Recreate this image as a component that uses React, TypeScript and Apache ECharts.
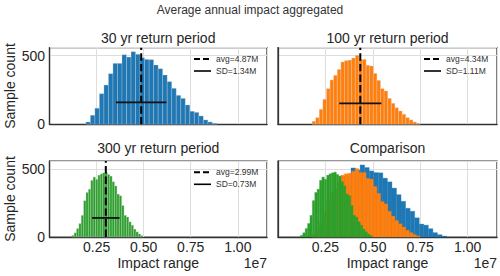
import React, { useEffect, useRef } from 'react';
import * as echarts from 'echarts';

const mainTitle = 'Average annual impact aggregated';
const panelTitles = ['30 yr return period', '100 yr return period', '300 yr return period', 'Comparison'];
const colors = ['#1f77b4', '#ff7f0e', '#2ca02c'];
const binStarts = [1.93e6, 1.796e6, 1.18e6];
const binWidths = [2.4e5, 1.9e5, 1.263e5];
const blueCounts = [17, 66, 117, 223, 286, 369, 444, 444, 507, 490, 529, 510, 485, 473, 471, 432, 405, 359, 311, 262, 211, 189, 141, 95, 87, 61, 32, 17, 7];
const orangeCounts = [22, 49, 109, 182, 260, 323, 357, 400, 454, 464, 468, 483, 502, 473, 473, 430, 425, 371, 320, 260, 243, 189, 153, 121, 97, 73, 49, 32, 17, 7];
const greenCounts = [12, 31, 62, 99, 159, 267, 327, 351, 416, 440, 423, 454, 464, 471, 476, 459, 447, 406, 375, 315, 303, 231, 159, 147, 111, 87, 58, 38, 22, 10];
const avgM = [4.87, 4.34, 2.99];
const sdM = [1.34, 1.11, 0.73];
const sdLineY = [160, 153, 140];
const xMax = 1.155e7;
const xInterval = 2.5e6;
const yMax = 558;
const yInterval = 500;

const FONT = '"Liberation Sans", Arial, sans-serif';
const TXT = '#262626';

const grids = [
  { left: 49.5, top: 47.7, width: 217.5, height: 76.6 },
  { left: 278, top: 47.7, width: 219, height: 76.6 },
  { left: 49.5, top: 161, width: 217.5, height: 76 },
  { left: 278, top: 161, width: 219, height: 76 },
];

const allCounts = [blueCounts, orangeCounts, greenCounts];
const bins = allCounts.map((counts, k) =>
  counts.map((c, i) => [binStarts[k] + i * binWidths[k], binStarts[k] + (i + 1) * binWidths[k], c])
);

const makeRender = (fill: string, stroke: string, lw: number) => (params: any, api: any) => {
  const p0 = api.coord([api.value(0), 0]);
  const p1 = api.coord([api.value(1), api.value(2)]);
  return {
    type: 'rect',
    shape: { x: p0[0], y: p1[1], width: p1[0] - p0[0], height: p0[1] - p1[1] },
    style: { fill, stroke, lineWidth: lw },
  };
};

export default function App() {
  const ref = useRef<HTMLDivElement>(null);
  useEffect(() => {
    if (!ref.current) return;
    const chart = echarts.init(ref.current, undefined, { renderer: 'svg' });

    const series: any[] = [];
    for (let p = 0; p < 3; p++) {
      series.push({
        type: 'custom',
        xAxisIndex: p,
        yAxisIndex: p,
        renderItem: makeRender(colors[p], 'rgba(220,220,220,0.8)', 0.35),
        encode: { x: [0, 1], y: 2 },
        data: bins[p],
        z: 2,
      });
      const avg = avgM[p] * 1e6;
      const sd = sdM[p] * 1e6;
      series.push({
        type: 'line',
        xAxisIndex: p,
        yAxisIndex: p,
        data: [[avg, 0], [avg, yMax]],
        symbol: 'none',
        lineStyle: { color: '#000', width: 2, type: [7.4, 3.2] },
        z: 4,
      });
      series.push({
        type: 'line',
        xAxisIndex: p,
        yAxisIndex: p,
        data: [[avg - sd, sdLineY[p]], [avg + sd, sdLineY[p]]],
        symbol: 'none',
        lineStyle: { color: '#111', width: 1.8 },
        z: 4,
      });
    }
    for (let k = 0; k < 3; k++) {
      series.push({
        type: 'custom',
        xAxisIndex: 3,
        yAxisIndex: 3,
        renderItem: makeRender(colors[k], colors[k], 0.3),
        encode: { x: [0, 1], y: 2 },
        data: bins[k],
        z: 2 + k,
      });
    }

    const graphics: any[] = [];
    [0, 2].forEach((p) => {
      const g = grids[p];
      graphics.push({
        type: 'text',
        x: 10,
        y: g.top + g.height / 2,
        rotation: Math.PI / 2,
        style: { text: 'Sample count', fontSize: 14, fontFamily: FONT, fill: TXT, align: 'center', verticalAlign: 'middle' },
      });
    });
    [2, 3].forEach((p) => {
      const g = grids[p];
      graphics.push({
        type: 'text',
        x: g.left + g.width / 2,
        y: 263.3,
        style: { text: 'Impact range', fontSize: 14, fontFamily: FONT, fill: TXT, align: 'center', verticalAlign: 'middle' },
      });
      graphics.push({
        type: 'text',
        x: g.left + g.width,
        y: 263,
        style: { text: '1e7', fontSize: 14, fontFamily: FONT, fill: TXT, align: 'right', verticalAlign: 'middle' },
      });
    });
    for (let p = 0; p < 3; p++) {
      const g = grids[p];
      const r = g.left + g.width;
      const y1 = g.top + 11.3;
      const y2 = g.top + 23.3;
      graphics.push({
        type: 'line',
        shape: { x1: r - 73, y1, x2: r - 56, y2: y1 },
        style: { stroke: '#000', lineWidth: 2, lineDash: [6, 3] },
        z: 10,
      });
      graphics.push({
        type: 'line',
        shape: { x1: r - 73, y1: y2, x2: r - 56, y2 },
        style: { stroke: '#000', lineWidth: 1.6 },
        z: 10,
      });
      graphics.push({
        type: 'text',
        x: r - 51,
        y: y1,
        style: { text: `avg=${avgM[p].toFixed(2)}M`, fontSize: 8.5, fontFamily: FONT, fill: '#333', align: 'left', verticalAlign: 'middle' },
        z: 10,
      });
      graphics.push({
        type: 'text',
        x: r - 51,
        y: y2,
        style: { text: `SD=${sdM[p].toFixed(2)}M`, fontSize: 8.5, fontFamily: FONT, fill: '#333', align: 'left', verticalAlign: 'middle' },
        z: 10,
      });
    }

    const titleTops = [30.5, 30.5, 140.7, 140.7];
    const titles: any[] = [
      { text: mainTitle, left: 250, top: 3.5, padding: 0, textAlign: 'center', textStyle: { fontSize: 12, fontWeight: 'normal', fontFamily: FONT, color: '#333' } },
    ];
    panelTitles.forEach((t, p) => {
      const g = grids[p];
      titles.push({
        text: t,
        left: g.left + g.width / 2,
        top: titleTops[p],
        textAlign: 'center',
        padding: 0,
        textStyle: { fontSize: 14, fontWeight: 'normal', fontFamily: FONT, color: TXT },
      });
    });

    const option: any = {
      animation: false,
      backgroundColor: '#ffffff',
      title: titles,
      grid: grids.map((g) => ({ ...g, show: true, borderColor: '#333', borderWidth: 1.25, backgroundColor: 'transparent' })),
      xAxis: grids.map((g, p) => ({
        type: 'value',
        gridIndex: p,
        min: 0,
        max: xMax,
        interval: xInterval,
        axisLine: { show: true, lineStyle: { color: '#333', width: 1.25 } },
        axisTick: { show: false },
        splitLine: { show: true, lineStyle: { color: '#dedede', width: 1 } },
        axisLabel: {
          show: p >= 2,
          fontSize: 14,
          fontFamily: FONT,
          color: TXT,
          margin: 3,
          showMinLabel: false,
          formatter: (v: number) => (v <= 0 || v > 1.0001e7 ? '' : (v / 1e7).toFixed(2)),
        },
      })),
      yAxis: grids.map((g, p) => ({
        type: 'value',
        gridIndex: p,
        min: 0,
        max: yMax,
        interval: yInterval,
        axisLine: { show: true, lineStyle: { color: '#333', width: 1.25 } },
        axisTick: { show: false },
        splitLine: { show: true, lineStyle: { color: '#dedede', width: 1 } },
        axisLabel: {
          show: p % 2 === 0,
          fontSize: 14,
          fontFamily: FONT,
          color: TXT,
          margin: 4.5,
          formatter: (v: number) => (v % yInterval === 0 ? String(v) : ''),
        },
      })),
      series,
      graphic: graphics,
    };
    chart.setOption(option);
    return () => chart.dispose();
  }, []);
  return <div ref={ref} style={{ width: 500, height: 276, position: 'absolute', left: 0, top: 0 }} />;
}
